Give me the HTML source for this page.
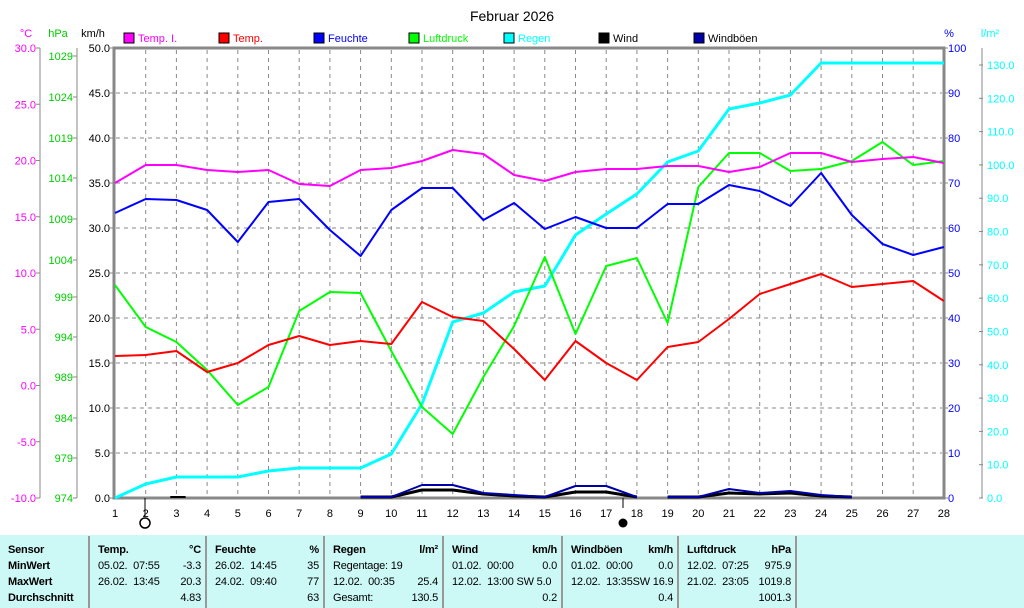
<!DOCTYPE html>
<html><head><meta charset="utf-8"><style>
body{margin:0;background:#fff;width:1024px;height:608px;overflow:hidden;font-family:"Liberation Sans",sans-serif}
svg text{font-family:"Liberation Sans",sans-serif}
.tb{position:absolute;top:535px;left:0;width:1024px;height:73px;background:#ccf8f6}
.c{position:absolute;top:536px;height:72px;border-right:2px solid #999;font-size:11px;line-height:16px;padding-top:6px;box-sizing:border-box;letter-spacing:-0.2px}
.r{display:flex;justify-content:space-between;padding:0 4px 0 8px;white-space:pre}
b{font-weight:bold}
</style></head><body>
<svg width="1024" height="535" style="position:absolute;left:0;top:0">
<text x="512" y="21" font-size="14" text-anchor="middle">Februar 2026</text>
<g id="grid" stroke="#888" stroke-dasharray="4,4" stroke-width="1"></g>
<rect x="114" y="48" width="830" height="450" fill="none" stroke="#888" stroke-width="3"/>
<g id="ax" font-size="11"></g>
<g id="leg" font-size="11"></g>
<g id="ser" fill="none" stroke-linejoin="round"></g>
<circle cx="145" cy="523" r="5" fill="#fff" stroke="#000" stroke-width="1.5"/>
<circle cx="623" cy="523" r="4.5" fill="#000"/>
<line x1="145" y1="498" x2="145" y2="516" stroke="#000"/>
<line x1="623" y1="498" x2="623" y2="508" stroke="#000"/>
</svg>
<div class="tb"></div>
<div class="c" style="left:0;width:90px"><div class="r"><b>Sensor</b></div><div class="r"><b>MinWert</b></div><div class="r"><b>MaxWert</b></div><div class="r"><b>Durchschnitt</b></div></div>
<div class="c" style="left:90px;width:117px"><div class="r"><b>Temp.</b><b>°C</b></div><div class="r"><span>05.02.  07:55</span><span>-3.3</span></div><div class="r"><span>26.02.  13:45</span><span>20.3</span></div><div class="r"><span></span><span>4.83</span></div></div>
<div class="c" style="left:207px;width:118px"><div class="r"><b>Feuchte</b><b>%</b></div><div class="r"><span>26.02.  14:45</span><span>35</span></div><div class="r"><span>24.02.  09:40</span><span>77</span></div><div class="r"><span></span><span>63</span></div></div>
<div class="c" style="left:325px;width:119px"><div class="r"><b>Regen</b><b>l/m²</b></div><div class="r"><span>Regentage: 19</span><span></span></div><div class="r"><span>12.02.  00:35</span><span>25.4</span></div><div class="r"><span>Gesamt:</span><span>130.5</span></div></div>
<div class="c" style="left:444px;width:119px"><div class="r"><b>Wind</b><b>km/h</b></div><div class="r"><span>01.02.  00:00</span><span>0.0</span></div><div class="r"><span>12.02.  13:00 SW 5.0</span></div><div class="r"><span></span><span>0.2</span></div></div>
<div class="c" style="left:563px;width:116px"><div class="r"><b>Windböen</b><b>km/h</b></div><div class="r"><span>01.02.  00:00</span><span>0.0</span></div><div class="r"><span>12.02.  13:35SW 16.9</span></div><div class="r"><span></span><span>0.4</span></div></div>
<div class="c" style="left:679px;width:118px"><div class="r"><b>Luftdruck</b><b>hPa</b></div><div class="r"><span>12.02.  07:25</span><span>975.9</span></div><div class="r"><span>21.02.  23:05</span><span>1019.8</span></div><div class="r"><span></span><span>1001.3</span></div></div>
<script>
const X=d=>115+(d-1)*30.7;
const ns="http://www.w3.org/2000/svg";
function el(p,t,a,txt){const e=document.createElementNS(ns,t);for(const k in a)e.setAttribute(k,a[k]);if(txt!=null)e.textContent=txt;document.getElementById(p).appendChild(e);}
for(let d=2;d<=27;d++)el('grid','line',{x1:X(d),y1:50,x2:X(d),y2:496});
for(let i=1;i<10;i++){const y=498-i*45;el('grid','line',{x1:116,y1:y,x2:942,y2:y});}
el('ax','line',{x1:40,y1:48,x2:40,y2:498,stroke:'#888'});
el('ax','line',{x1:77,y1:48,x2:77,y2:498,stroke:'#888'});
el('ax','line',{x1:982,y1:48,x2:982,y2:498,stroke:'#888'});
el('ax','text',{x:26,y:37,fill:'#f0f','text-anchor':'middle'},'°C');
el('ax','text',{x:58,y:37,fill:'#0c0','text-anchor':'middle'},'hPa');
el('ax','text',{x:93,y:37,fill:'#000','text-anchor':'middle'},'km/h');
el('ax','text',{x:949,y:37,fill:'#00f','text-anchor':'middle'},'%');
el('ax','text',{x:990,y:37,fill:'#0ff','text-anchor':'middle'},'l/m²');
for(let i=0;i<=8;i++){const y=498-i*56.25;
 el('ax','text',{x:36,y:y+4,fill:'#f0f','text-anchor':'end'},(-10+i*5).toFixed(1));
 el('ax','line',{x1:36,y1:y,x2:40,y2:y,stroke:'#888'});}
for(let i=0;i<=10;i++){const y=498-i*45;
 el('ax','text',{x:110,y:y+4,fill:'#000','text-anchor':'end'},(i*5).toFixed(1));
 el('ax','line',{x1:110,y1:y,x2:114,y2:y,stroke:'#888'});
 el('ax','text',{x:948,y:y+4,fill:'#00f'},String(i*10));
 el('ax','line',{x1:944,y1:y,x2:948,y2:y,stroke:'#888'});
}
const hp=[1029,1024,1019,1014,1009,1004,999,994,989,984,979,974];
const hy=[56,97,138,178,219,260,297,337,377,418,458,498];
hp.forEach((v,i)=>{el('ax','text',{x:73,y:hy[i]+4,fill:'#0c0','text-anchor':'end'},String(v));el('ax','line',{x1:73,y1:hy[i],x2:77,y2:hy[i],stroke:'#888'});});
for(let i=0;i<=13;i++){const y=498-i*433/130*10;el('ax','text',{x:987,y:y+4,fill:'#0ff'},(i*10).toFixed(1));el('ax','line',{x1:979,y1:y,x2:983,y2:y,stroke:'#888'});}
for(let d=1;d<=28;d++)el('ax','text',{x:X(d),y:517,fill:'#000','text-anchor':'middle'},String(d));
const L=[['Temp. I.','#f0f',124],['Temp.','#f00',219],['Feuchte','#00f',314],['Luftdruck','#0f0',409],['Regen','#0ff',504],['Wind','#000',599],['Windböen','#00a',694]];
L.forEach(l=>{el('leg','rect',{x:l[2],y:33,width:10,height:10,fill:l[1],stroke:'#000'});el('leg','text',{x:l[2]+14,y:42,fill:l[1]==='#000'||l[1]==='#00a'?'#000':l[1]},l[0]);});
function line(ys,c,w,start){start=start||1;el('ser','polyline',{points:ys.map((y,i)=>X(i+start)+','+y).join(' '),stroke:c,'stroke-width':w});}
line([498,484,477,477,477,471,468,468,468,454,404,322,313,292,286,235,214,194,162,151,109,103,95,63,63,63,63,63],'#0ff',3);
line([285,327,342,370,405,387,311,292,293,351,407,434,377,326,257,334,266,258,323,187,153,153,171,169,161,142,165,161],'#0f0',2);
line([213,199,200,210,242,202,199,230,256,210,188,188,220,203,229,217,228,228,204,204,185,191,206,173,215,244,255,247],'#00f',2);
line([356,355,351,372,363,345,336,345,341,344,302,317,321,349,380,341,363,380,347,342,319,294,284,274,287,284,281,301],'#f00',2);
line([183,165,165,170,172,170,184,186,170,168,161,150,154,175,181,172,169,169,166,166,172,167,153,153,162,159,157,163],'#f0f',2);
line([497,497,490,490,494,496,497,492,492,497],'#000',3,9);
line([497,497,485,485,493,495,497,486,486,497],'#00a',2,9);
line([497,497,493,494,493,496,497],'#000',3,19);
line([497,497,489,493,491,495,497],'#00a',2,19);
el('ser','line',{x1:X(2.8),y1:497,x2:X(3.3),y2:497,stroke:'#000','stroke-width':2});
</script>
</body></html>
